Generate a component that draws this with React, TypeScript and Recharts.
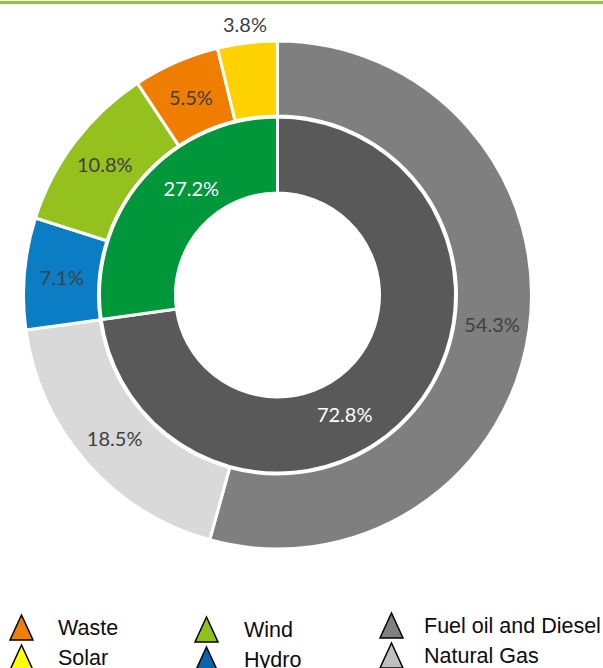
import React from 'react';
import { PieChart, Pie, Cell, Legend } from 'recharts';

const outerNames = ['Fuel oil and Diesel', 'Natural Gas', 'Hydro', 'Wind', 'Waste', 'Solar'];
const outerValues = [54.3, 18.5, 7.1, 10.8, 5.5, 3.8];
const innerNames = ['Non-renewable', 'Renewable'];
const innerValues = [72.8, 27.2];

const legendNames = ['Waste', 'Solar', 'Wind', 'Hydro', 'Fuel oil and Diesel', 'Natural Gas'];

// styles
const outerColors = ['#7f7f7f', '#d9d9d9', '#0a7dc4', '#95c11f', '#ef7d00', '#fed200'];
const innerColors = ['#595959', '#00973a'];
const outerLabelOutside = [false, false, false, false, false, true];
const innerLabelAngleShift = [-19.6, -10];
const legendColors = ['#f07f09', '#ffff00', '#92c01f', '#0566b0', '#808080', '#c0c0c0'];

const outerData = outerNames.map((n, i) => ({ name: n, value: outerValues[i] }));
const innerData = innerNames.map((n, i) => ({ name: n, value: innerValues[i] }));

const RAD = Math.PI / 180;

const outerLabel = (props: any) => {
  const { cx, cy, midAngle, innerRadius, outerRadius, index, value } = props;
  const outside = outerLabelOutside[index];
  const r = outside ? outerRadius + 19 : (innerRadius + outerRadius) / 2;
  const x = cx + r * Math.cos(-midAngle * RAD);
  const y = cy + r * Math.sin(-midAngle * RAD);
  return (
    <text x={x} y={y} textAnchor="middle" dominantBaseline="central" fill="#404040" fontSize={20} fontFamily="Lato">
      {Number(value).toFixed(1)}%
    </text>
  );
};

const innerLabel = (props: any) => {
  const { cx, cy, midAngle, index, value } = props;
  const a = midAngle + innerLabelAngleShift[index];
  const r = 137;
  const x = cx + r * Math.cos(-a * RAD);
  const y = cy + r * Math.sin(-a * RAD);
  return (
    <text x={x} y={y} textAnchor="middle" dominantBaseline="central" fill="#ffffff" fontSize={20} fontFamily="Lato">
      {Number(value).toFixed(1)}%
    </text>
  );
};

const colX = [10, 195, 380];
const colTextX = [58, 244, 424];
const colYShift = [0, 2, -2];

const renderLegend = () => (
  <svg width={603} height={68} style={{ display: 'block' }}>
    {legendNames.map((name, i) => {
      const col = Math.floor(i / 2);
      const row = i % 2;
      const x = colX[col];
      const top = 15 + row * 30 + colYShift[col];
      return (
        <g key={name}>
          <polygon
            points={`${x + 11.5},${top} ${x + 23},${top + 25} ${x},${top + 25}`}
            fill={legendColors[i]}
            stroke="#000"
            strokeWidth={1.5}
            strokeLinejoin="miter"
          />
          <text x={colTextX[col]} y={top + 20} fontSize={21.5} fontFamily="Liberation Sans, Arial, sans-serif" fill="#0d0d0d">
            {name}
          </text>
        </g>
      );
    })}
  </svg>
);

export default function App() {
  return (
    <div style={{ position: 'absolute', left: 0, top: 0, width: 603, height: 668, background: '#fff', overflow: 'hidden' }}>
      <div style={{ position: 'absolute', left: 0, top: 1, width: 603, height: 3, background: '#8fc640' }} />
      <PieChart width={603} height={668} margin={{ top: 0, right: 0, bottom: 0, left: 0 }}>
        <Pie
          data={innerData}
          dataKey="value"
          nameKey="name"
          cx={277.5}
          cy={295}
          innerRadius={102}
          outerRadius={178}
          startAngle={90}
          endAngle={-270}
          stroke="#ffffff"
          strokeWidth={3}
          label={innerLabel}
          labelLine={false}
          isAnimationActive={false}
        >
          {innerData.map((d, i) => (
            <Cell key={d.name} fill={innerColors[i]} />
          ))}
        </Pie>
        <Pie
          data={outerData}
          dataKey="value"
          nameKey="name"
          cx={277.5}
          cy={295}
          innerRadius={179}
          outerRadius={254}
          startAngle={90}
          endAngle={-270}
          stroke="#ffffff"
          strokeWidth={3}
          label={outerLabel}
          labelLine={false}
          isAnimationActive={false}
        >
          {outerData.map((d, i) => (
            <Cell key={d.name} fill={outerColors[i]} />
          ))}
        </Pie>
        <Legend
          content={renderLegend}
          verticalAlign="bottom"
          wrapperStyle={{ position: 'absolute', left: 0, top: 600, width: 603, height: 68, bottom: 'auto', margin: 0 }}
        />
      </PieChart>
    </div>
  );
}
